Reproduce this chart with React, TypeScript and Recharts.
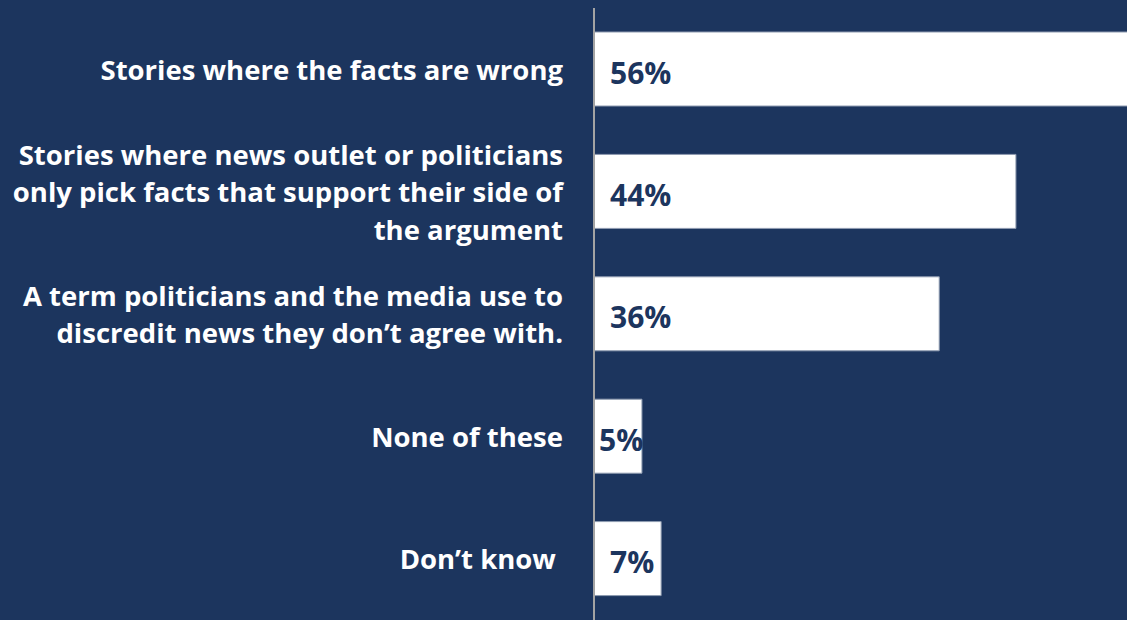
import { Bar, BarChart, LabelList, XAxis, YAxis } from "recharts";

const categories = [
  "Stories where the facts are wrong",
  "Stories where news outlet or politicians\nonly pick facts that support their side of\nthe argument",
  "A term politicians and the media use to\ndiscredit news they don’t agree with.",
  "None of these",
  "Don’t know ",
];
const shares = [56, 44, 36, 5, 7];

const data = categories.map((c, i) => ({ name: c, value: shares[i] }));

const NAVY = "#1c355e";
const FONT = "'Open Sans', 'Noto Sans', sans-serif";

function CategoryTick(props: any) {
  const { x, y, payload } = props;
  const lines = String(payload.value).split("\n");
  const lh = 37.5;
  const start = y - ((lines.length - 1) * lh) / 2;
  return (
    <text
      x={x}
      y={start}
      textAnchor="end"
      fill="#ffffff"
      fontFamily={FONT}
      fontWeight={700}
      fontSize={27.5}
      style={{ whiteSpace: "pre" }}
    >
      {lines.map((l, i) => (
        <tspan key={i} x={x} y={start + i * lh} dominantBaseline="central">
          {l}
        </tspan>
      ))}
    </text>
  );
}

function ValueLabel(props: any) {
  const { x, y, width, height, value } = props;
  const pad = width < 60 ? 5 : 16;
  return (
    <text
      x={x + pad}
      y={y + height / 2 + 3}
      fill={NAVY}
      fontFamily={FONT}
      fontWeight={700}
      fontSize={30}
      dominantBaseline="central"
    >
      {value}%
    </text>
  );
}

export default function App() {
  return (
    <div
      style={{
        position: "absolute",
        left: 0,
        top: 0,
        width: 1127,
        height: 620,
        background: NAVY,
        overflow: "hidden",
      }}
    >
      <BarChart
        width={1127}
        height={620}
        layout="vertical"
        data={data}
        margin={{ top: 8, right: -4, bottom: 0, left: 0 }}
        barCategoryGap={24}
      >
        <XAxis type="number" domain={[0, 56]} hide />
        <YAxis
          type="category"
          dataKey="name"
          width={594}
          tickSize={0}
          tickMargin={31}
          tickLine={false}
          axisLine={{ stroke: "#a3a3a3", strokeWidth: 2 }}
          tick={<CategoryTick />}
          interval={0}
        />
        <Bar
          dataKey="value"
          fill="#ffffff"
          stroke="#8e9bb0"
          strokeWidth={1}
          barSize={74}
          isAnimationActive={false}
        >
          <LabelList dataKey="value" content={<ValueLabel />} />
        </Bar>
      </BarChart>
    </div>
  );
}
